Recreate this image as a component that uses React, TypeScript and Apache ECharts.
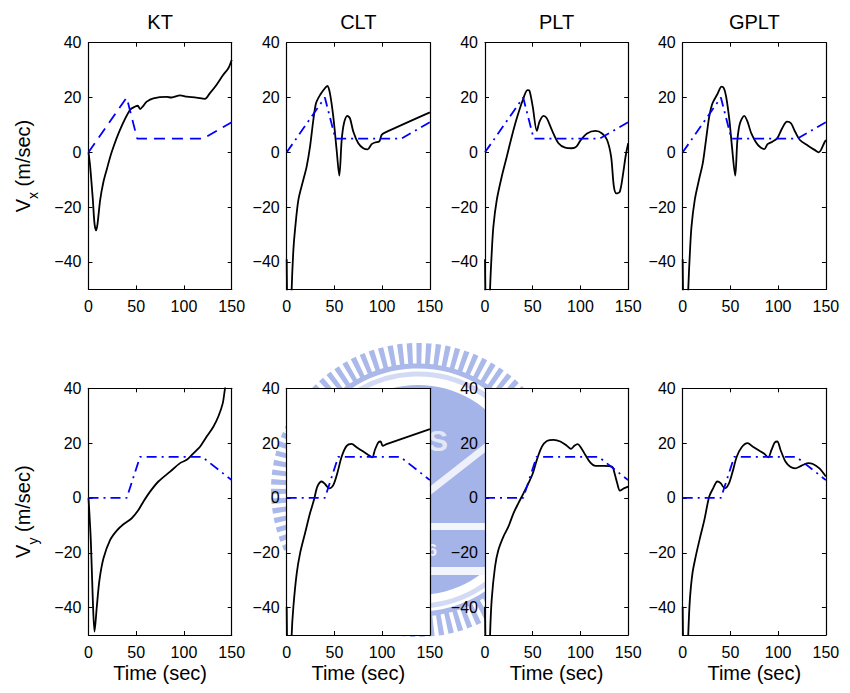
import React, { useEffect, useRef } from "react";
import * as echarts from "echarts";

const FONT = "'Liberation Sans', Arial, Helvetica, sans-serif";

const titles = ["KT", "CLT", "PLT", "GPLT"];
const xTicks = [0, 50, 100, 150];
const yTicks = [-40, -20, 0, 20, 40];

// reference trajectories (blue)
const refVx: number[][] = [[0, 0], [40, 20], [51, 5], [120, 5], [150, 11]];
const refVy: number[][] = [[0, 0], [40, 0], [54, 15], [119, 15], [150, 6.5]];

// Vx (top row)
const ktVx: number[][] = [[0, 0], [1.7, -5], [4.5, -17], [6.3, -26], [8, -28.5], [9.5, -26], [12.2, -17.4], [15.5, -11], [19, -6.4], [24.4, 0.2], [33, 8.2], [43.6, 15.5], [49, 16.7], [51.6, 17], [54, 15.8], [57, 16.8], [61, 18.5], [68, 19.7], [82, 20.2], [87, 20], [96, 20.8], [103, 20.3], [113, 20], [122, 19.5], [127, 21.5], [134, 24.6], [141, 28.2], [146.5, 30.7], [150, 33.7]];
const cltVx: number[][] = [[0, -39], [0.8, -60], [3, -80], [5.2, -50], [7, -35.6], [8.7, -28.3], [12.2, -17.4], [17.4, -10], [20.9, -5.2], [24.4, 2], [27.9, 11.8], [30.7, 17.9], [34.9, 20.9], [40, 23.4], [42.6, 24.2], [45.3, 21.5], [48.8, 13], [52.3, 0.9], [55.1, -8.5], [57.6, 4.5], [60, 10.6], [63.5, 13.3], [66.3, 12.4], [69.8, 7.5], [75, 3.3], [80.2, 1.5], [84.8, 1.1], [89, 3], [92.4, 3.6], [97, 4], [99.4, 6.3], [102.9, 7.2], [150, 14.6]];
const pltVx: number[][] = [[0, -39], [0.8, -60], [3, -80], [5.3, -50], [7, -36.9], [8.8, -27], [12.3, -17.4], [17.5, -8.9], [22.8, -1.6], [28, 5.7], [33.3, 12.4], [39.6, 19.1], [44.5, 22.7], [46.6, 22.5], [50, 16.7], [54.3, 7.8], [57.1, 11.2], [61.3, 13.3], [64.8, 12.4], [70, 8.2], [77, 3.3], [84, 1.7], [91, 1.5], [95.7, 2.1], [99.9, 4.3], [106.9, 6.9], [115.7, 7.8], [122.7, 6.9], [127.9, 4.5], [132.1, -1.6], [135, -12.5], [137.7, -15], [141.2, -14.4], [144.7, -7.7], [147.2, -1.6], [150, 3.3]];
const gpltVx: number[][] = [[0, -39], [0.8, -60], [3, -80], [5.8, -50], [7.5, -36.9], [9.2, -27.1], [12.6, -17.4], [17, -10.1], [21, -4], [24.4, 4.5], [27.8, 13], [31.2, 17.9], [36.3, 21.2], [40.7, 24], [43.1, 23.4], [45.5, 20.3], [48.9, 11.8], [51.6, 2.1], [55, -8.5], [57.3, 4.5], [60, 10.6], [64.5, 13.3], [67.9, 11.2], [71.9, 6.9], [78.7, 2.7], [85.5, 1.2], [88.9, 3], [94, 3.9], [99, 5.1], [104.2, 8.8], [109.3, 11.2], [113.4, 10.6], [117.8, 7.5], [122.8, 4.5], [131.3, 2.4], [138.1, 0.9], [142.5, 0], [144.9, 0.9], [148.3, 3.5], [150, 4.5]];

// Vy (bottom row)
const ktVy: number[][] = [[0, 0], [2.4, -15.3], [4.5, -37], [6.3, -48.8], [8.7, -39.7], [11.5, -29.9], [15.7, -22], [22.7, -15.3], [29.6, -11.9], [36.6, -9.6], [45.3, -7.4], [52.3, -4.4], [57.6, -1.3], [64.5, 2.3], [73.2, 6], [85.5, 9.6], [95.9, 12.7], [102.9, 13.9], [109.9, 16.3], [116.8, 18.7], [123.8, 22.4], [130.8, 26], [136, 29.7], [140.6, 34.5], [143, 40], [146, 46], [150, 52]];
const cltVy: number[][] = [[0, -39.7], [0.8, -60], [3, -80], [5.2, -50], [7, -39.7], [10.5, -27.5], [14, -20.2], [19.2, -12.9], [24.4, -5.6], [28.6, -0.7], [32.1, 4.1], [36.6, 6], [40.1, 5.1], [44.6, 3.5], [48.8, 4.7], [53, 9], [57.6, 15.1], [62.8, 19], [68, 19.7], [73.2, 18.5], [80.2, 16.9], [85.5, 15.7], [89.6, 14.8], [92.4, 17.5], [95.9, 20.2], [98.4, 20.6], [100.5, 19], [104.6, 19.6], [150, 25.1]];
const pltVy: number[][] = [[0, -39.7], [0.8, -60], [3, -80], [5.3, -50], [7, -37.2], [10.5, -25.1], [14, -19], [19.3, -14.1], [24.5, -10.5], [29.8, -5.6], [35, -1.9], [40.3, 1.7], [45.6, 5.4], [50.1, 9], [54.3, 13.9], [59.6, 18.7], [64.8, 20.8], [71.9, 21.2], [78.9, 20.6], [85.9, 19], [90, 17.9], [93.6, 19], [97.1, 19.6], [99.9, 18.7], [105.1, 15.7], [110.4, 12.9], [115.7, 11.7], [124.4, 11.7], [133.2, 11.4], [135.7, 9], [138.5, 5.4], [141.3, 2.7], [145.5, 3.5], [150, 4.1]];
const gpltVy: number[][] = [[0, -39.7], [0.8, -60], [3, -80], [5.8, -50], [7.5, -37.2], [10.2, -27.5], [13.6, -21.4], [17.6, -15.3], [22.7, -8], [27.8, 0.5], [31.9, 3.5], [36.3, 6], [39.7, 5.4], [44.1, 3.5], [48.2, 5.1], [52.3, 9.6], [56.7, 15.1], [61.8, 18.5], [67.9, 20], [73.6, 18.7], [80.4, 17.2], [85.5, 16.1], [89.6, 14.8], [93, 17.5], [96.4, 20.2], [99.1, 20.6], [102.5, 17.5], [107.6, 13.3], [112.7, 11.4], [117.7, 10.8], [124.5, 11.8], [131.3, 12.7], [136.4, 12.4], [143.2, 10.8], [150, 7.8]];

const actual = [ktVx, cltVx, pltVx, gpltVx, ktVy, cltVy, pltVy, gpltVy];

const colLeft = [88.5, 286.7, 485, 682.7];
const rowTop = [42.7, 388.3];
const PW = 143.2;
const PH = 246.7;

const minus = (v: number) => String(v).replace("-", "\u2212");

function buildOption() {
  const grid: any[] = [];
  const xAxis: any[] = [];
  const yAxis: any[] = [];
  const series: any[] = [];
  const black = "#000";
  for (let i = 0; i < 8; i++) {
    const row = i < 4 ? 0 : 1;
    const col = i % 4;
    grid.push({ left: colLeft[col], top: rowTop[row], width: PW, height: PH, show: true, backgroundColor: "#fff", borderWidth: 0 });
    const axLine = { show: true, onZero: false, lineStyle: { color: black, width: 1.2 } };
    const tick = { show: true, inside: true, length: 4, lineStyle: { color: black, width: 1 } };
    xAxis.push({
      gridIndex: i, type: "value", min: 0, max: 150, interval: 50, position: "bottom",
      axisLine: axLine, axisTick: tick, splitLine: { show: false },
      axisLabel: { color: black, fontSize: 16, fontFamily: FONT, margin: 9, customValues: xTicks },
    });
    xAxis.push({
      gridIndex: i, type: "value", min: 0, max: 150, interval: 50, position: "top",
      axisLine: axLine, axisTick: tick, splitLine: { show: false }, axisLabel: { show: false },
    });
    yAxis.push({
      gridIndex: i, type: "value", min: -50, max: 40, position: "left",
      axisLine: axLine, axisTick: { ...tick, customValues: yTicks }, splitLine: { show: false },
      axisLabel: { color: black, fontSize: 16, fontFamily: FONT, margin: 7, customValues: yTicks, formatter: (v: number) => minus(v) },
    });
    yAxis.push({
      gridIndex: i, type: "value", min: -50, max: 40, position: "right",
      axisLine: axLine, axisTick: { ...tick, customValues: yTicks }, splitLine: { show: false }, axisLabel: { show: false },
    });
    series.push({
      type: "line", xAxisIndex: 2 * i, yAxisIndex: 2 * i, data: actual[i], showSymbol: false, symbol: "none",
      smooth: 0.3, clip: true, lineStyle: { color: black, width: 1.8 }, z: 3,
    });
    const isDashed = i === 0;
    series.push({
      type: "line", xAxisIndex: 2 * i, yAxisIndex: 2 * i, data: row === 0 ? refVx : refVy, showSymbol: false, symbol: "none",
      clip: true, z: 4,
      lineStyle: { color: "#0000ff", width: 1.8, type: isDashed ? [11, 7] : [10, 5, 2, 5], cap: "butt" },
    });
  }

  const wmC = "#aab8ea";
  const cx = 418;
  const cy = 490;
  const graphic: any[] = [
    { type: "circle", z: -20, shape: { cx, cy, r: 136 }, style: { fill: "none", stroke: wmC, lineWidth: 22, lineDash: [5, 4] }, silent: true },
    { type: "circle", z: -20, shape: { cx, cy, r: 124 }, style: { fill: "none", stroke: wmC, lineWidth: 5 }, silent: true },
    { type: "circle", z: -20, shape: { cx, cy, r: 116 }, style: { fill: "none", stroke: "#d3daf4", lineWidth: 5 }, silent: true },
    { type: "circle", z: -20, shape: { cx, cy, r: 105 }, style: { fill: "#a4b4e8" }, silent: true },
    { type: "line", z: -19, shape: { x1: 380, y1: 530, x2: 495, y2: 440 }, style: { stroke: "#eef1fb", lineWidth: 7 }, silent: true },
    { type: "text", z: -19, x: 438, y: 440, style: { text: "S", fill: "#e2e7f8", font: `bold 30px ${FONT}`, align: "center", verticalAlign: "middle" }, silent: true },
    { type: "rect", z: -19, shape: { x: 300, y: 523, width: 240, height: 7 }, style: { fill: "#f3f5fc" }, silent: true },
    { type: "text", z: -19, x: cx, y: 550, style: { text: "1896", fill: "#eef1fb", font: `bold 17px ${FONT}`, align: "center", verticalAlign: "middle" }, silent: true },
    { type: "rect", z: -19, shape: { x: 300, y: 567, width: 240, height: 8 }, style: { fill: "#f3f5fc" }, silent: true },
  ];

  for (let c = 0; c < 4; c++) {
    const mid = colLeft[c] + PW / 2;
    graphic.push({ type: "text", x: mid, y: 22, style: { text: titles[c], fill: "#000", font: `20px ${FONT}`, align: "center", verticalAlign: "middle" } });
    graphic.push({ type: "text", x: mid, y: 673, style: { text: "Time (sec)", fill: "#000", font: `20px ${FONT}`, align: "center", verticalAlign: "middle" } });
  }
  const yl = (sub: string, y: number) => ({
    type: "text", x: 23, y, rotation: Math.PI / 2,
    style: {
      text: `{v|V}{s|${sub}}{n| (m/sec)}`, align: "center", verticalAlign: "middle",
      rich: {
        v: { fontSize: 20, fontFamily: FONT, fill: "#000", lineHeight: 34, verticalAlign: "middle" },
        s: { fontSize: 14, fontFamily: FONT, fill: "#000", lineHeight: 14, verticalAlign: "bottom" },
        n: { fontSize: 20, fontFamily: FONT, fill: "#000", lineHeight: 34, verticalAlign: "middle" },
      },
    },
  });
  graphic.push(yl("x", rowTop[0] + PH / 2));
  graphic.push(yl("y", rowTop[1] + PH / 2));

  return { animation: false, backgroundColor: "#fff", grid, xAxis, yAxis, series, graphic };
}

export default function App() {
  const ref = useRef<HTMLDivElement>(null);
  useEffect(() => {
    if (!ref.current) return;
    const chart = echarts.init(ref.current, undefined, { renderer: "svg" });
    chart.setOption(buildOption() as any);
    return () => chart.dispose();
  }, []);
  return <div ref={ref} style={{ position: "fixed", left: 0, top: 0, width: 850, height: 693 }} />;
}
